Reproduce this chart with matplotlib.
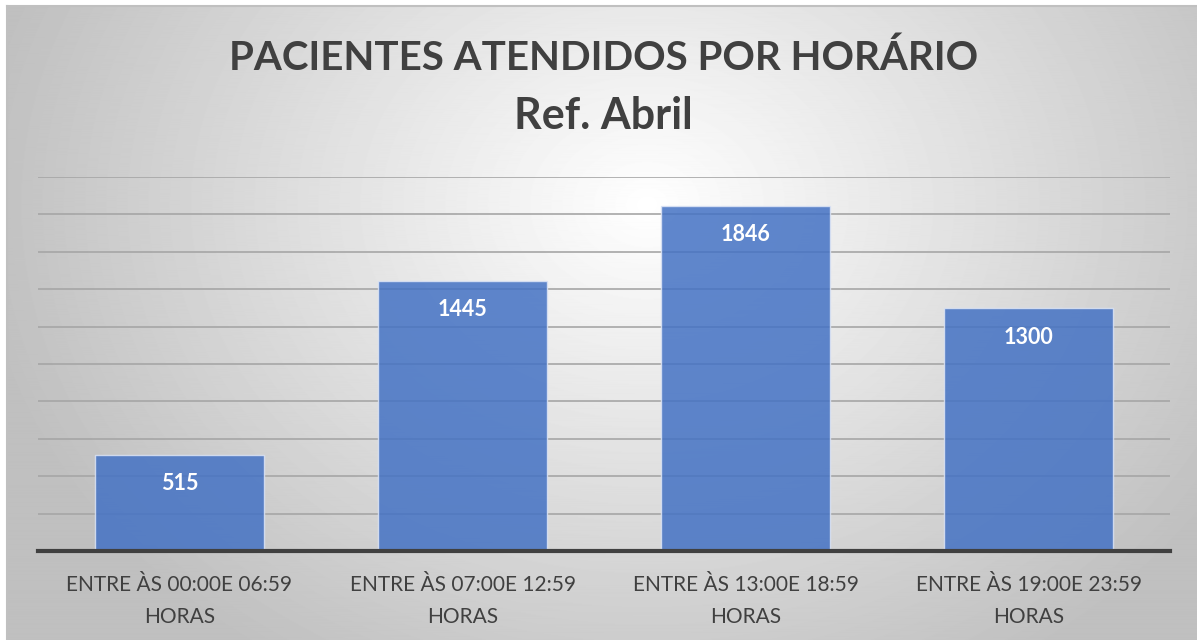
import numpy as np
import matplotlib.pyplot as plt

categories = [
    "ENTRE ÀS 00:00E 06:59\nHORAS",
    "ENTRE ÀS 07:00E 12:59\nHORAS",
    "ENTRE ÀS 13:00E 18:59\nHORAS",
    "ENTRE ÀS 19:00E 23:59\nHORAS",
]
pacientes = [515, 1445, 1846, 1300]

TITLE = "PACIENTES ATENDIDOS POR HORÁRIO"
SUBTITLE = "Ref. Abril"
FONT = ["Lato", "DejaVu Sans"]
TEXT_COLOR = "#404040"

W, H = 1197, 640
fig = plt.figure(figsize=(W / 100, H / 100), dpi=100)
fig.patch.set_facecolor("white")

# radial grey gradient behind the chart
bg = fig.add_axes([7 / W, 0, 1 - 7 / W, 1 - 6 / H])
yy, xx = np.mgrid[0:H, 0:W - 7]
r = np.sqrt(((xx - 640) / 760.0) ** 2 + ((yy - 200) / 620.0) ** 2)
shade = np.clip(1.0 - 0.28 * r, 0.75, 1.0)
bg.imshow(shade, cmap="gray", vmin=0, vmax=1, aspect="auto",
          extent=[0, 1, 0, 1], origin="upper")
bg.set_axis_off()
fig.add_artist(plt.Line2D([7 / W, 7 / W], [0, 1 - 6 / H], color="#c0c0c0", lw=1.5))
fig.add_artist(plt.Line2D([7 / W, 1], [1 - 6 / H, 1 - 6 / H], color="#c0c0c0", lw=1.5))

# plot area
left, right = 38 / W, 1170 / W
bottom, top = (H - 551) / H, (H - 177) / H
ax = fig.add_axes([left, bottom, right - left, top - bottom])
ax.set_facecolor("none")

x = np.arange(len(categories))
bars = ax.bar(x, pacientes, width=0.6, color="#4472C4", alpha=0.85,
              edgecolor="#dce4f5", linewidth=1, zorder=3)

ax.set_xlim(-0.5, len(categories) - 0.5)
ax.set_ylim(0, 2000)
ax.set_yticks(np.arange(200, 2001, 200))
ax.yaxis.grid(True, color="#a6a6a6", linewidth=1.2, zorder=1)
ax.tick_params(axis="y", left=False, labelleft=False)
ax.tick_params(axis="x", bottom=False, pad=14)
ax.set_xticks(x)
ax.set_xticklabels(categories, fontsize=15, color=TEXT_COLOR,
                   family=FONT, linespacing=1.75)
for s in ["top", "right", "left"]:
    ax.spines[s].set_visible(False)
ax.spines["bottom"].set_color("#404040")
ax.spines["bottom"].set_linewidth(3)
ax.spines["bottom"].set_zorder(5)

for rect, v in zip(bars, pacientes):
    ax.annotate(str(v), (rect.get_x() + rect.get_width() / 2, v),
                xytext=(0, -21), textcoords="offset points", ha="center",
                va="center", color="white", fontsize=15.5, fontweight="bold",
                family=FONT, zorder=6)

fig.text(0.504, 1 - 58 / H, TITLE, ha="center",
         va="center", fontsize=29, fontweight="bold", color=TEXT_COLOR,
         family=FONT)
fig.text(0.504, 1 - 116 / H, SUBTITLE, ha="center", va="center",
         fontsize=31, fontweight="bold", color=TEXT_COLOR, family=FONT)

fig.savefig("out.png", dpi=100)
